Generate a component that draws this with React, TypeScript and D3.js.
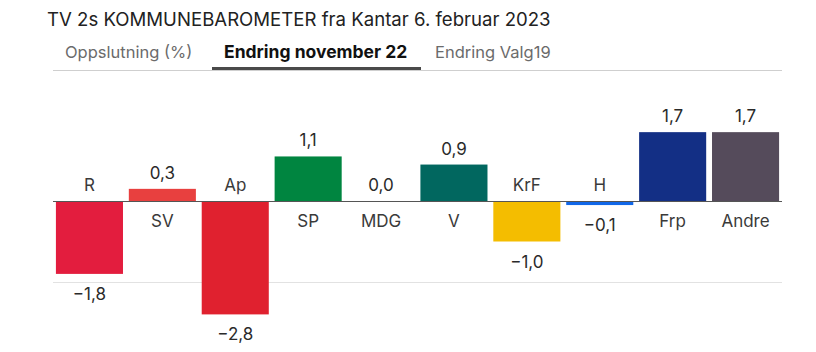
import React from "react";
import * as d3 from "d3";

const parties = ["R", "SV", "Ap", "SP", "MDG", "V", "KrF", "H", "Frp", "Andre"];
const changes = [-1.8, 0.3, -2.8, 1.1, 0.0, 0.9, -1.0, -0.1, 1.7, 1.7];
const colors = ["#e31d3e", "#e8403f", "#e0212f", "#008540", "#4a9a3a", "#01675f", "#f4bd00", "#1167e8", "#132f85", "#554b5b"];
const gridValues = [-2];
const title = "TV 2s KOMMUNEBAROMETER fra Kantar 6. februar 2023";
const tabs = ["Oppslutning (%)", "Endring november 22", "Endring Valg19"];
const activeTab = 1;

const W = 816;
const H = 352;
const FONT = "Inter, Roboto, 'Noto Sans', sans-serif";

export default function App() {
  const x = d3.scaleBand<string>().domain(parties).range([53, 782]).paddingInner(0.08).paddingOuter(0.04);
  const y = d3.scaleLinear().domain([-3, 2]).range([322.5, 120]);
  const fmt = (v: number) => {
    const s = d3.format(".1f")(Math.abs(v)).replace(".", ",");
    return v < 0 ? "\u2212" + s : s;
  };
  const tabX = [53, 212, 423];
  const tabW = [156, 209, 142];
  const y0 = y(0);
  return (
    <svg width={W} height={H} style={{ position: "absolute", left: 0, top: 0, background: "#fff" }} fontFamily={FONT}>
      <text x={47} y={26} fontSize={18.6} fill="#222">{title}</text>
      {tabs.map((t, i) => (
        <text key={t} x={tabX[i] + 12} y={58} fontSize={i === activeTab ? 17.5 : 16.5} fontWeight={i === activeTab ? 700 : 400} fill={i === activeTab ? "#111" : "#6b6b6b"}>{t}</text>
      ))}
      <line x1={53} x2={782} y1={70.5} y2={70.5} stroke="#cfcfcf" strokeWidth={1} />
      <rect x={tabX[activeTab]} y={67} width={tabW[activeTab]} height={3} fill="#4a4a4a" />
      {gridValues.map((g) => (
        <line key={g} x1={53} x2={782} y1={y(g) + 0.5} y2={y(g) + 0.5} stroke="#e2e2e2" strokeWidth={1} />
      ))}
      {parties.map((p, i) => {
        const v = changes[i];
        const bx = x(p)!;
        const bw = x.bandwidth();
        const top = y(Math.max(0, v));
        const bot = y(Math.min(0, v));
        const cx = bx + bw / 2;
        const neg = v < 0;
        return (
          <g key={p}>
            {v !== 0 && <rect x={bx} y={top} width={bw} height={bot - top} fill={colors[i]} />}
            <text x={cx} y={neg ? y0 - 10 : y0 + 26} textAnchor="middle" fontSize={17} fill="#3a3a3a">{p}</text>
            <text x={cx} y={neg ? bot + 26 : top - 10} textAnchor="middle" fontSize={17} fill="#2a2a2a">{fmt(v)}</text>
          </g>
        );
      })}
      <line x1={53} x2={782} y1={y0 + 0.5} y2={y0 + 0.5} stroke="#555" strokeWidth={1} />
    </svg>
  );
}
